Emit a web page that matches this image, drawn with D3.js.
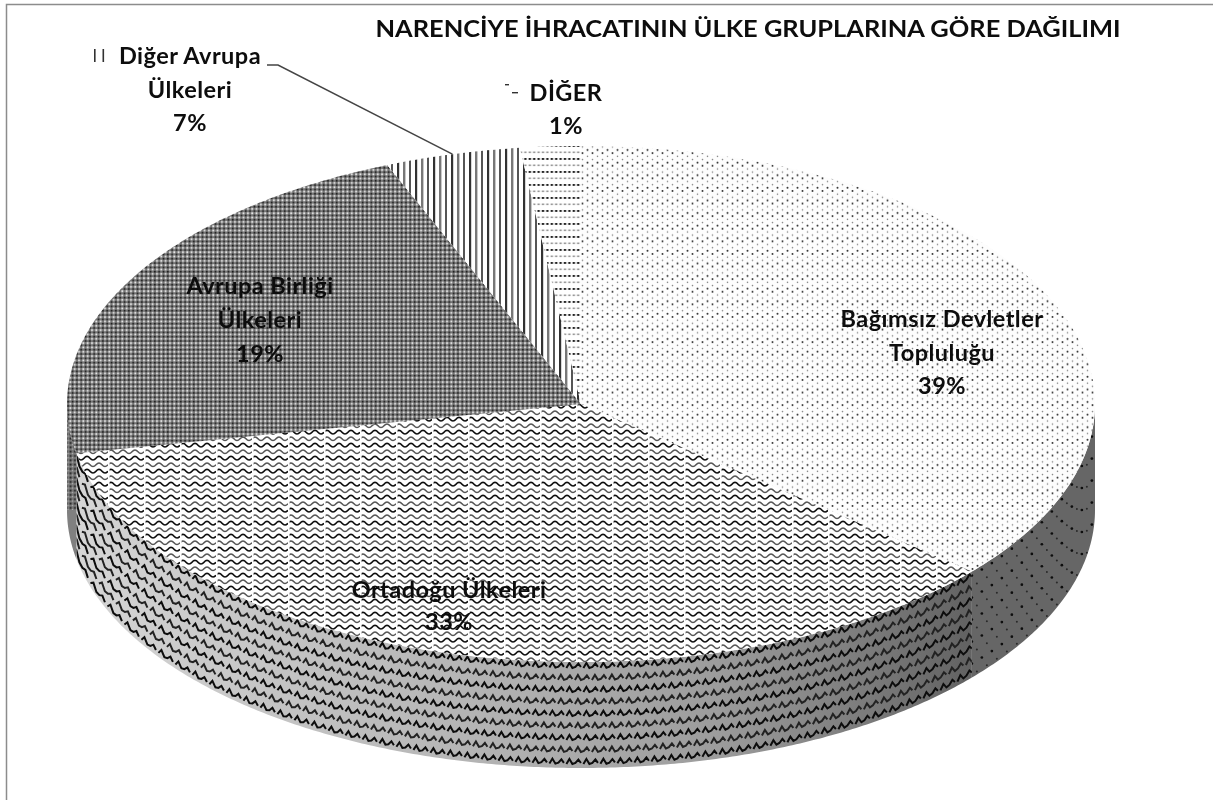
<!DOCTYPE html>
<html lang="tr"><head><meta charset="utf-8">
<script src="https://d3js.org/d3.v7.min.js"></script>
<style>html,body{margin:0;padding:0;background:#fff}svg{display:block}text{font-family:Lato,"Open Sans",sans-serif;fill:#0c0c0c}</style>
</head><body><svg id="c" width="1213" height="812"></svg>
<script>
const chartTitle = "NARENCİYE İHRACATININ ÜLKE GRUPLARINA GÖRE DAĞILIMI";
const categories = ["Bağımsız Devletler Topluluğu","Ortadoğu Ülkeleri","Avrupa Birliği Ülkeleri","Diğer Avrupa Ülkeleri","DİĞER"];
const labelPercents = [39,33,19,7,1];
// wedge extents as they are drawn in the perspective view (share of the turn, %)
const drawnShares = [36.25,35.7,21.9,4.25,1.9];
const labelLines = [["Bağımsız Devletler","Topluluğu"],["Ortadoğu Ülkeleri"],["Avrupa Birliği","Ülkeleri"],["Diğer Avrupa","Ülkeleri"],["DİĞER"]];

const W=1213,H=812,cx=581,cy=404,rx=514,ry=258,depth=106;
const svg=d3.select("#c");
const defs=svg.append("defs");
const f=defs.append("filter").attr("id","soft").attr("filterUnits","userSpaceOnUse")
  .attr("x",0).attr("y",0).attr("width",W).attr("height",H);
f.append("feGaussianBlur").attr("stdDeviation",0.42);

function pat(id,w,h,bg,draw){
  const p=defs.append("pattern").attr("id",id).attr("patternUnits","userSpaceOnUse").attr("width",w).attr("height",h);
  if(bg) p.append("rect").attr("width",w).attr("height",h).attr("fill",bg);
  draw(p); return p;
}
const dot=(p,x,y,r,c)=>p.append("circle").attr("cx",x).attr("cy",y).attr("r",r).attr("fill",c);
const sq=(p,x,y,w,h,c)=>p.append("rect").attr("x",x).attr("y",y).attr("width",w).attr("height",h).attr("fill",c);
const wave=(n,per,amp,y)=>{let s=`M0 ${y}`;for(let i=0;i<n;i++){s+=` q ${per/4} ${-amp} ${per/2} 0 q ${per/4} ${amp} ${per/2} 0`;}return s;};

pat("pA",10,12.6,"#fdfdfd",p=>{dot(p,2.5,2,1.0,"#333");dot(p,7.5,5.2,.8,"#888");dot(p,2.5,8.3,.8,"#888");dot(p,7.5,11.4,1.0,"#333");});
pat("pB",36,13,"#fff",p=>{
  p.append("path").attr("d",wave(3,12,3.6,3.2)).attr("fill","none").attr("stroke","#111").attr("stroke-width",1.7);
  p.append("path").attr("d",wave(3,12,3.6,9.7)).attr("fill","none").attr("stroke","#555").attr("stroke-width",1.5);
  sq(p,0,0,1.6,13,"#fff");
});
pat("pC",4.33,4.33,"#767676",p=>{sq(p,.2,.2,1.8,1.8,"#ececec");sq(p,2.4,2.4,1.7,1.7,"#1c1c1c");});
pat("pD",18,6,"#fff",p=>{sq(p,1,0,2.2,6,"#333");sq(p,7,0,2.4,6,"#777");sq(p,13,0,2,6,"#555");});
pat("pE",4.4,13,"#fff",p=>{sq(p,.6,2,2.4,1.9,"#222");sq(p,.6,8.5,2.4,1.6,"#999");});
pat("wC",4.33,4.33,"#777",p=>{sq(p,.4,.4,1.8,1.8,"#222");sq(p,2.5,2.5,1.2,1.2,"#bbb");});

const grad=defs.append("linearGradient").attr("id","wallShade").attr("gradientUnits","userSpaceOnUse")
  .attr("x1",cx-rx).attr("x2",cx+rx*0.76).attr("y1",0).attr("y2",0);
[[0,"#d6d6d6"],[0.45,"#b4b4b4"],[0.72,"#9c9c9c"],[0.88,"#7c7c7c"],[1,"#626262"]].forEach(s=>grad.append("stop").attr("offset",s[0]).attr("stop-color",s[1]));

const slices=d3.pie().sort(null).value(d=>d)(drawnShares);
const ex=a=>cx+rx*Math.sin(a), ey=a=>cy-ry*Math.cos(a);
const rimY=x=>cy+ry*Math.sqrt(Math.max(0,1-Math.pow((x-cx)/rx,2)));
const line=d3.line();
const samp=(a0,a1)=>{const n=Math.max(2,Math.ceil((a1-a0)*120));return d3.range(n+1).map(i=>a0+(a1-a0)*i/n);};

const g=svg.append("g").attr("filter","url(#soft)");
g.append("rect").attr("width",W).attr("height",H).attr("fill","#fff");

// frame: only the top and left edges are visible
g.append("path").attr("d",line([[6.5,H-12],[6.5,4.5],[W,4.5]])).attr("fill","none").attr("stroke","#8c8c8c").attr("stroke-width",1.5);

// side wall: only the front half of the rim is visible; textures follow the rim
const wallBase=["#666","url(#wallShade)","#808080"];
function wallTexture(i,group,x0,x1){
  if(i===0){
    d3.range(4,depth+3,11).forEach((d,r)=>{
      d3.range(x0+(r%2?5:0),x1+8,10).forEach(x=>{
        group.append("circle").attr("cx",x).attr("cy",rimY(x)+d).attr("r",r%2?1:1.35).attr("fill",r%2?"#2a2a2a":"#0c0c0c");
      });
    });
  } else if(i===1){
    const shape=[[0,0],[3,-5],[6,0],[9,-1],[12,-4.5],[14.5,-1]];
    d3.range(6,depth+6,12).forEach((d,r)=>{
      d3.range(x0-20+(r%2?8.5:0),x1+20,17).forEach(x=>{
        const pts=shape.map(p=>[x+p[0],rimY(x+p[0])+d+p[1]]);
        group.append("path").attr("d",line(pts)).attr("fill","none").attr("stroke",r%2?"#222":"#0c0c0c").attr("stroke-width",2);
      });
    });
  } else {
    group.append("rect").attr("x",x0-12).attr("y",cy).attr("width",x1-x0+24).attr("height",depth+rimY(x0)-cy).attr("fill","url(#wC)");
  }
}
slices.forEach((s,i)=>{
  const a0=Math.max(s.startAngle,Math.PI/2), a1=Math.min(s.endAngle,Math.PI*1.5);
  if(a1<=a0) return;
  const top=samp(a0,a1).map(a=>[ex(a),ey(a)]);
  const bot=samp(a0,a1).reverse().map(a=>[ex(a),ey(a)+depth]);
  const dstr=line(top.concat(bot))+"Z";
  g.append("path").attr("d",dstr).attr("fill",wallBase[i]);
  defs.append("clipPath").attr("id","wall"+i).append("path").attr("d",dstr);
  const tg=g.append("g").attr("clip-path",`url(#wall${i})`);
  wallTexture(i,tg,Math.min(ex(a0),ex(a1)),Math.max(ex(a0),ex(a1)));
});

// top face
const topPat=["pA","pB","pC","pD","pE"];
slices.forEach((s,i)=>{
  const pts=[[cx,cy]].concat(samp(s.startAngle,s.endAngle).map(a=>[ex(a),ey(a)]));
  g.append("path").attr("d",line(pts)+"Z").attr("fill",`url(#${topPat[i]})`);
});

// leader line for the outside label, ending at the wedge's rim midpoint
const mid=(slices[3].startAngle+slices[3].endAngle)/2;
g.append("path").attr("d",line([[267,65],[278,65],[ex(mid),ey(mid)]])).attr("fill","none").attr("stroke","#444").attr("stroke-width",1.5);

// title
g.append("text").attr("x",748).attr("y",36.5).attr("text-anchor","middle").attr("font-size",23).attr("font-weight",700).attr("textLength",745).attr("lengthAdjust","spacingAndGlyphs").text(chartTitle);

// labels
const labelAnchor=[[942,327],[449,598],[260,294],[190,64],[566,101]];
const keyBox=[[815,312,12,12,"pA"],[323,584,12,12,"pB"],[160,280,13,13,"pC"]];
const lh=[33.5,32,34,33.5,33];
categories.forEach((c,i)=>{
  const lines=labelLines[i].concat([labelPercents[i]+"%"]);
  lines.forEach((t,j)=>{
    g.append("text").attr("x",labelAnchor[i][0]).attr("y",labelAnchor[i][1]+j*lh[i]).attr("text-anchor","middle")
      .attr("font-size",23.5).attr("letter-spacing",0.45).attr("font-weight",700).text(t);
  });
});
keyBox.forEach(k=>g.append("rect").attr("x",k[0]).attr("y",k[1]).attr("width",k[2]).attr("height",k[3]).attr("fill",`url(#${k[4]})`));
// legend keys that show only a fragment of their pattern
[[94,49,1.6,13],[102.5,49,1.6,13],[505,84,4,1.4],[512,92,6,1.4]].forEach(k=>
  g.append("rect").attr("x",k[0]).attr("y",k[1]).attr("width",k[2]).attr("height",k[3]).attr("fill","#333"));
</script></body></html>
